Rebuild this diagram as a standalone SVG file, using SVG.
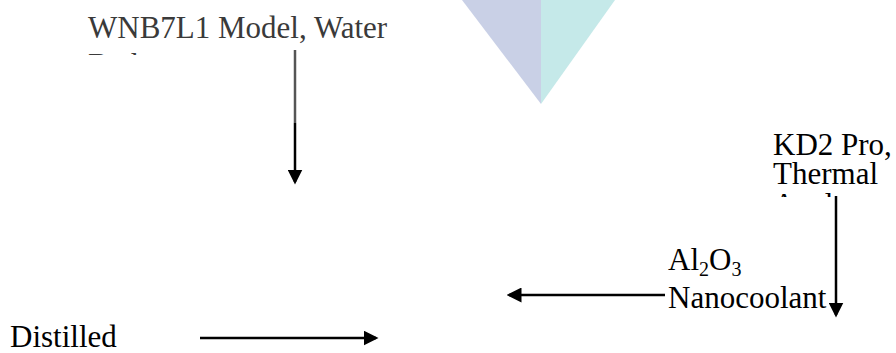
<svg xmlns="http://www.w3.org/2000/svg" width="896" height="353" viewBox="0 0 896 353">
<style>
.t{font-family:"Liberation Serif","Times New Roman",serif;font-size:31px;fill:#000}
.g{fill:#3a3a3a}
.ln{stroke:#000;stroke-width:2.5;fill:none}
</style>
<defs>
<marker id="ah" markerWidth="6" markerHeight="6" refX="5" refY="3" orient="auto" markerUnits="strokeWidth" viewBox="0 0 6 6">
<path d="M0,0 L6,3 L0,6 Z" fill="#000"/>
</marker>
<clipPath id="c1"><rect x="0" y="0" width="896" height="55"/></clipPath>
<clipPath id="c2"><rect x="0" y="0" width="896" height="197"/></clipPath>
</defs>
<rect width="896" height="353" fill="#fff"/>
<g id="watermark">
<polygon points="462,0 541,0 541,104" fill="#c9d0e6"/>
<polygon points="541,0 615,0 541,104" fill="#c5e9e9"/>
</g>
<g id="node-waterbath">
<text class="t g" x="88" y="38">WNB7L1 Model, Water</text>
<text class="t g" x="88" y="75" clip-path="url(#c1)">Bath</text>
</g>
<g id="node-kd2">
<text class="t" x="773" y="155">KD2 Pro,</text>
<text class="t" x="773" y="184">Thermal</text>
<text class="t" x="773" y="215" clip-path="url(#c2)">Analyzer</text>
</g>
<g id="node-al2o3">
<text class="t" x="668" y="270">Al<tspan font-size="20" dy="6">2</tspan><tspan dy="-6">O</tspan><tspan font-size="20" dy="6">3</tspan></text>
<text class="t" x="668" y="308">Nanocoolant</text>
</g>
<g id="node-distilled">
<text class="t" x="10" y="347">Distilled</text>
</g>
<g id="connectors">
<line x1="295" y1="50" x2="295" y2="123" stroke="#555" stroke-width="2.5"/>
<line class="ln" x1="295" y1="123" x2="295" y2="182" marker-end="url(#ah)"/>
<line class="ln" x1="836" y1="196" x2="836" y2="315" marker-end="url(#ah)"/>
<line class="ln" x1="665" y1="295" x2="509" y2="295" marker-end="url(#ah)"/>
<line class="ln" x1="200" y1="338" x2="376" y2="338" marker-end="url(#ah)"/>
</g>
</svg>
